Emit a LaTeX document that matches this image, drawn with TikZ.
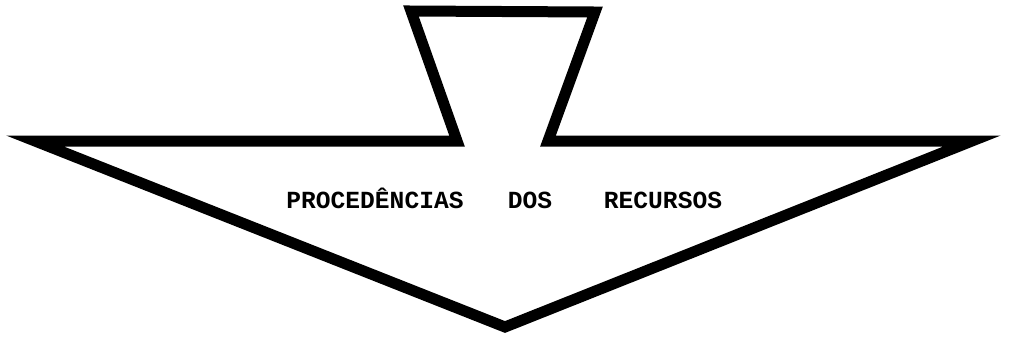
\documentclass[tikz,border=0pt]{standalone}
\usepackage{fontspec}
\newfontfamily\mono{Liberation Mono}
\tikzset{
  outline/.style={draw=black, line width=0.22cm, line join=miter, miter limit=10},
  label/.style={font=\mono\bfseries\fontsize{14}{15}\selectfont, inner sep=0pt, text=black, anchor=base}
}
\begin{document}
\begin{tikzpicture}[x=0.02cm, y=-0.02cm]
\useasboundingbox (0,0) rectangle (1011,346);
\coordinate (L) at (35,141);
\coordinate (FL) at (457,141);
\coordinate (TL) at (411,11);
\coordinate (TR) at (595,12);
\coordinate (FR) at (548,141);
\coordinate (R) at (972,141);
\coordinate (A) at (505,327);
\draw[outline] (L) -- (FL) -- (TL) -- (TR) -- (FR) -- (R) -- (A) -- cycle;
\node[label] (w1) at (375,208) {PROCEDÊNCIAS};
\node[label] (w2) at (530,208) {DOS};
\node[label] (w3) at (663,208) {RECURSOS};
\end{tikzpicture}
\end{document}
